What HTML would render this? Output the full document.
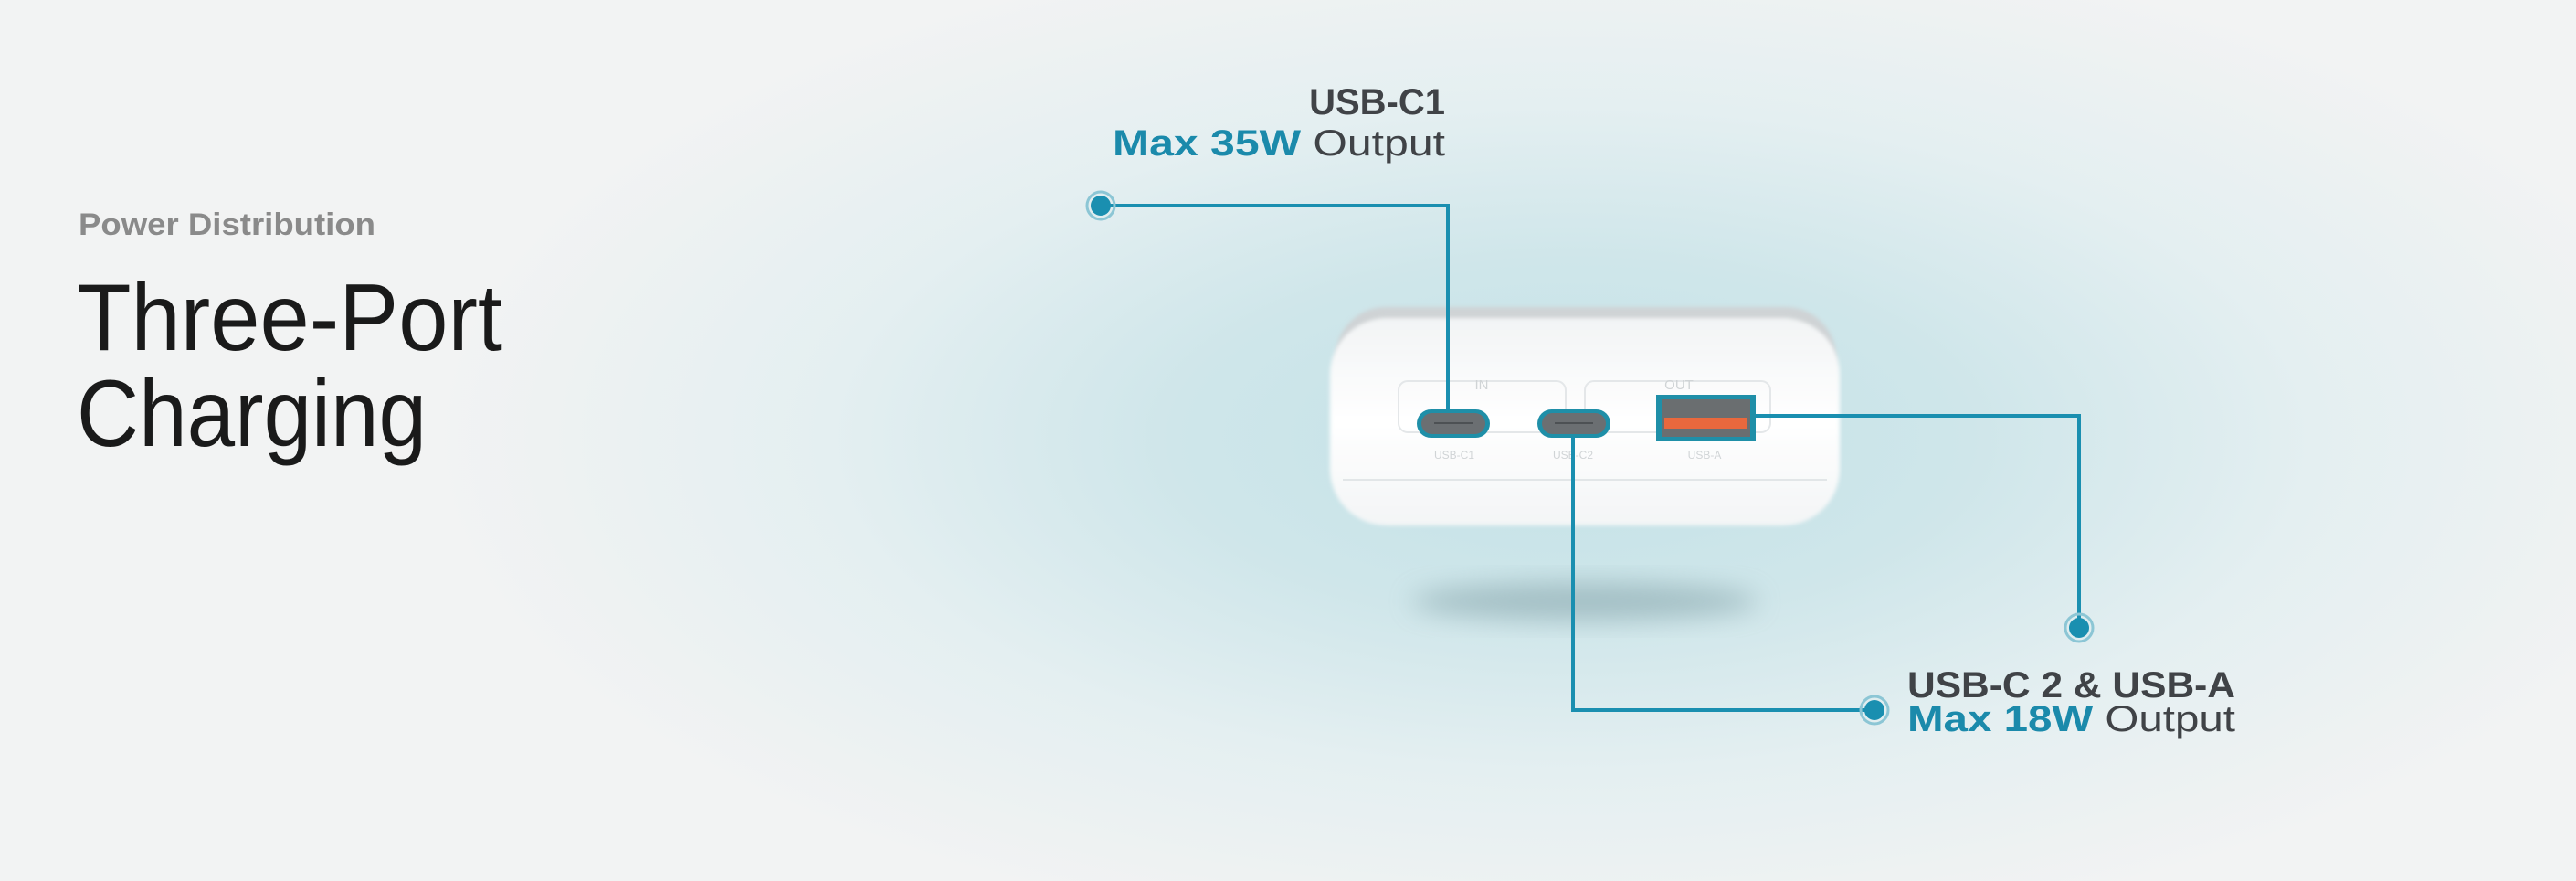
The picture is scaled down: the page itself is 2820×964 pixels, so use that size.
<!DOCTYPE html>
<html><head><meta charset="utf-8"><style>
html,body{margin:0;padding:0;width:2820px;height:964px;overflow:hidden;}
body{background:radial-gradient(ellipse 1250px 560px at 1720px 480px,#c3e2e7 0%,#cfe6ea 35%,#e4eff1 65%,#f2f3f3 100%);}
svg{position:absolute;left:0;top:0;}
</style></head><body>
<svg width="2820" height="964" viewBox="0 0 2820 964" xmlns="http://www.w3.org/2000/svg">
<defs>
<filter id="blur" x="-50%" y="-50%" width="200%" height="200%"><feGaussianBlur stdDeviation="14"/></filter>
<filter id="soft" x="-10%" y="-10%" width="120%" height="120%"><feGaussianBlur stdDeviation="2"/></filter>
<linearGradient id="body" x1="0" y1="0" x2="0" y2="1">
<stop offset="0" stop-color="#f2f4f5"/><stop offset="0.5" stop-color="#ffffff"/><stop offset="1" stop-color="#f3f5f6"/>
</linearGradient>
</defs>
<text x="86" y="257" font-family="Liberation Sans, sans-serif" font-weight="bold" font-size="34" fill="#8a8a8a" textLength="325" lengthAdjust="spacingAndGlyphs">Power Distribution</text>
<text x="84" y="383" font-family="Liberation Sans, sans-serif" font-size="104" fill="#1a1a1a" textLength="466" lengthAdjust="spacingAndGlyphs">Three-Port</text>
<text x="84" y="488" font-family="Liberation Sans, sans-serif" font-size="104" fill="#1a1a1a" textLength="383" lengthAdjust="spacingAndGlyphs">Charging</text>

<!-- shadow -->
<ellipse cx="1735" cy="658" rx="190" ry="20" fill="#7f9ea4" opacity="0.55" filter="url(#blur)"/>

<!-- device -->
<rect x="1462" y="336" width="548" height="110" rx="55" fill="#cfd3d5" filter="url(#soft)"/>
<rect x="1456" y="348" width="558" height="227" rx="62" fill="url(#body)" filter="url(#soft)"/>
<line x1="1470" y1="525" x2="2000" y2="525" stroke="#e2e6e8" stroke-width="2"/>
<rect x="1531" y="417" width="183" height="56" rx="10" fill="none" stroke="#e4e7e9" stroke-width="2"/>
<rect x="1735" y="417" width="203" height="56" rx="10" fill="none" stroke="#e4e7e9" stroke-width="2"/>
<text x="1622" y="426" font-family="Liberation Sans, sans-serif" font-size="15" fill="#d0d4d6" text-anchor="middle">IN</text>
<text x="1838" y="426" font-family="Liberation Sans, sans-serif" font-size="15" fill="#d0d4d6" text-anchor="middle">OUT</text>
<text x="1592" y="502" font-family="Liberation Sans, sans-serif" font-size="12" fill="#d0d4d6" text-anchor="middle">USB-C1</text>
<text x="1722" y="502" font-family="Liberation Sans, sans-serif" font-size="12" fill="#d0d4d6" text-anchor="middle">USB-C2</text>
<text x="1866" y="502" font-family="Liberation Sans, sans-serif" font-size="12" fill="#d0d4d6" text-anchor="middle">USB-A</text>
<!-- ports -->
<rect x="1551" y="448" width="80" height="31" rx="15.5" fill="#1f8fa8"/>
<rect x="1556" y="452" width="70" height="23" rx="11.5" fill="#6b6f72"/>
<line x1="1570" y1="463" x2="1612" y2="463" stroke="#4d5154" stroke-width="2"/>
<rect x="1683" y="448" width="80" height="31" rx="15.5" fill="#1f8fa8"/>
<rect x="1688" y="452" width="70" height="23" rx="11.5" fill="#6b6f72"/>
<line x1="1702" y1="463" x2="1744" y2="463" stroke="#4d5154" stroke-width="2"/>
<rect x="1813" y="432" width="109" height="51" fill="#1f8fa8"/>
<rect x="1819" y="437" width="97" height="41" fill="#6a6e70"/>
<rect x="1822" y="457" width="91" height="12" fill="#e9683d"/>

<!-- connectors -->
<g fill="none" stroke="#1a8fb0" stroke-width="4">
<polyline points="1205,225 1585,225 1585,449"/>
<polyline points="1922,455 2276,455 2276,687"/>
<polyline points="1722,478 1722,777 2052,777"/>
</g>
<g fill="#1a8fb0">
<circle cx="1205" cy="225" r="15" fill="none" stroke="#8cc6d5" stroke-width="3"/><circle cx="1205" cy="225" r="11"/>
<circle cx="2276" cy="687" r="15" fill="none" stroke="#8cc6d5" stroke-width="3"/><circle cx="2276" cy="687" r="11"/>
<circle cx="2052" cy="777" r="15" fill="none" stroke="#8cc6d5" stroke-width="3"/><circle cx="2052" cy="777" r="11"/>
</g>

<!-- labels -->
<g font-family="Liberation Sans, sans-serif" font-weight="bold" font-size="40">
<text x="1582" y="125" fill="#404347" text-anchor="end">USB-C1</text>
<text x="1218" y="170" textLength="364" lengthAdjust="spacingAndGlyphs"><tspan fill="#1b8aab">Max 35W</tspan><tspan fill="#404347" font-weight="normal"> Output</tspan></text>
<text x="2088" y="763" fill="#404347" textLength="359" lengthAdjust="spacingAndGlyphs">USB-C 2 &amp; USB-A</text>
<text x="2088" y="800" textLength="359" lengthAdjust="spacingAndGlyphs"><tspan fill="#1b8aab">Max 18W</tspan><tspan fill="#404347" font-weight="normal"> Output</tspan></text>
</g>
</svg>
</body></html>
